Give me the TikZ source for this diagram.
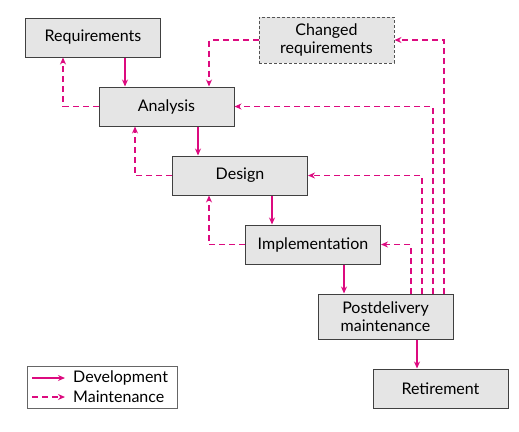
\documentclass[tikz,border=0pt]{standalone}
\usepackage{fontspec}
\setmainfont{Lato}
\usetikzlibrary{
  calc,
  positioning,
  arrows.meta
}
\definecolor{rubine}{HTML}{DC0A7F}
\definecolor{boxfill}{HTML}{E5E5E5}
\definecolor{boxline}{HTML}{404040}

\begin{document}
\begin{tikzpicture}[x=1pt,y=-1pt,>={Stealth[length=7pt,width=6pt]}]
  \tikzset{
    phase/.style={
      draw=boxline,fill=boxfill,line width=1pt,
      minimum width=135pt,minimum height=39pt,inner sep=0pt,
      align=center,font=\fontsize{16}{18}\selectfont
    },
    dev/.style={->,draw=rubine,line width=1.5pt},
    maint/.style={->,draw=rubine,line width=1.5pt,dash pattern=on 6pt off 4pt},
    keytext/.style={anchor=west,inner sep=0pt,font=\fontsize{16}{18}\selectfont}
  }
\useasboundingbox (0,0) rectangle (519,431);

\node[phase] (req) at (93,37.5) {Requirements};
\node[phase] (ana) at (166.5,106.5) {Analysis};
\node[phase,minimum height=46pt,draw=boxline!90,dash pattern=on 3pt off 2pt] (chg) at (326.5,40) {Changed\\requirements};
\node[phase] (des) at (240,175.5) {Design};
\node[phase] (imp) at (313,244.5) {Implementation};
\node[phase,minimum height=45pt] (post) at (385.5,316.5) {Postdelivery\\maintenance};
\node[phase] (ret) at (440.5,388.5) {Retirement};

% columns of the connectors
\coordinate (x63) at (63,0);
\coordinate (x125) at (125,0);
\coordinate (x135) at (135,0);
\coordinate (x198) at (198,0);
\coordinate (x209) at (209,0);
\coordinate (x272) at (272,0);
\coordinate (x344) at (344,0);
\coordinate (x411) at (411,0);
\coordinate (x417) at (417,0);
\coordinate (x422) at (422,0);
\coordinate (x433) at (433,0);
\coordinate (x444) at (444,0);

\draw[dev] (req.south -| x125) -- (ana.north -| x125);
\draw[dev] (ana.south -| x198) -- (des.north -| x198);
\draw[dev] (des.south -| x272) -- (imp.north -| x272);
\draw[dev] (imp.south -| x344) -- (post.north -| x344);
\draw[dev] (post.south -| x417) -- (ret.north -| x417);

\draw[maint] (ana.west) -| (req.south -| x63);
\draw[maint] (chg.west) -| (ana.north -| x209);
\draw[maint] (des.west) -| (ana.south -| x135);
\draw[maint] (imp.west) -| (des.south -| x209);
\draw[maint] (post.north -| x411) |- (imp.east);
\draw[maint] (post.north -| x422) |- (des.east);
\draw[maint] (post.north -| x433) |- (ana.east);
\draw[maint] (post.north -| x444) |- (chg.east);

% key
\node[draw=boxline!80,line width=0.8pt,minimum width=150pt,minimum height=42pt,inner sep=0pt] (key) at (102,387) {};
\node[keytext] (devkey) at (73,378) {Development};
\node[keytext] (mntkey) at (73,397) {Maintenance};
\coordinate (x32) at (32,0);
\draw[dev] (devkey.west -| x32) -- ([xshift=-8pt]devkey.west);
\draw[maint] (mntkey.west -| x32) -- ([xshift=-8pt]mntkey.west);

\end{tikzpicture}
\end{document}
